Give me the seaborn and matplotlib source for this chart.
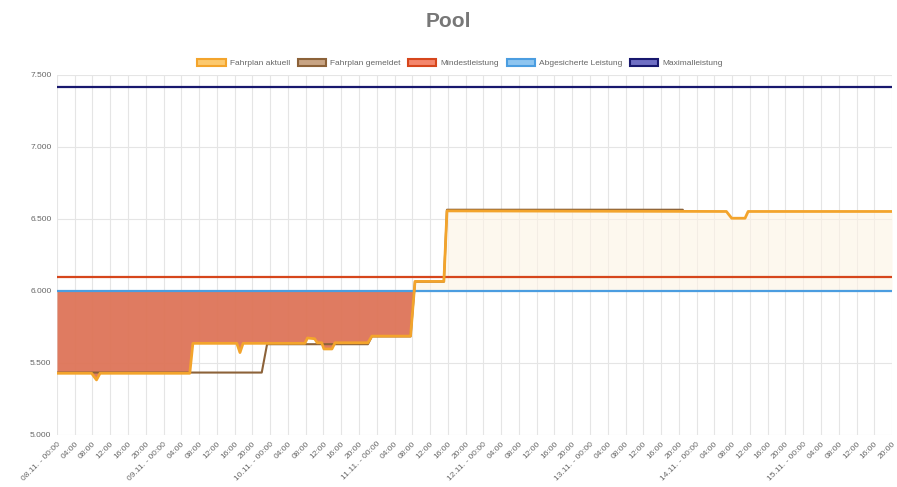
import numpy as np
import matplotlib
matplotlib.use("Agg")
import matplotlib.pyplot as plt
from matplotlib.patches import Patch
import seaborn as sns

# ── Data (hours since 08.11. 00:00) ──
akt_h = [0, 7.8, 8.9, 9.7, 29.9, 30.6, 40.5, 41.2, 41.9, 55.8, 56.4, 58.0, 58.6,
         59.6, 60.1, 61.9, 62.6, 70.0, 70.9, 79.6, 80.6, 87.1, 87.8, 150.7,
         151.9, 154.9, 155.6, 188]
akt_v = [5428, 5428, 5382, 5428, 5428, 5636, 5636, 5572, 5636, 5636, 5673, 5668, 5640,
         5640, 5597, 5597, 5640, 5640, 5686, 5686, 6066, 6066, 6556, 6552,
         6505, 6505, 6552, 6552]

gem_h = [0, 46.1, 47.3, 70.0, 70.9, 79.6, 80.6, 87.1, 87.8, 140.9]
gem_v = [5433, 5433, 5630, 5630, 5684, 5684, 6064, 6064, 6564, 6564]

const_h = [0, 188]
mindest_v = [6100, 6100]
abges_v = [6002, 6002]
max_v = [7418, 7418]

days = ["08.11.", "09.11.", "10.11.", "11.11.", "12.11.", "13.11.", "14.11.", "15.11."]
hour_lbls = ["00:00", "04:00", "08:00", "12:00", "16:00", "20:00"]
tick_labels = [f"{d} - {h}" if h == "00:00" else h for d in days for h in hour_lbls]
y_ticks = [5000, 5500, 6000, 6500, 7000, 7500]

C_AKT = "#f3a42c"
C_GEM = "#8c6239"
C_MIN = "#d6461c"
C_ABG = "#4b9de0"
C_MAX = "#18186e"

sns.set_theme(style="whitegrid")
plt.rcParams["font.family"] = ["Liberation Sans", "DejaVu Sans"]

fig = plt.figure(figsize=(8.97, 4.87), dpi=100)
ax = fig.add_axes([0.0635, 0.107, 0.931, 0.739])

# ── Fills between Fahrplan aktuell and Abgesicherte Leistung ──
xa = np.array(akt_h)
ya = np.array(akt_v)
ax.fill_between(xa, ya, abges_v[0], where=ya <= abges_v[0], interpolate=True,
                color="#de7458", alpha=0.95, lw=0, zorder=1)
ax.fill_between(xa, ya, abges_v[0], where=ya >= abges_v[0], interpolate=True,
                color="#fdf4e4", alpha=0.6, lw=0, zorder=1)

# ── Lines ──
sns.lineplot(x=const_h, y=max_v, ax=ax, color=C_MAX, linewidth=1.6, zorder=3)
sns.lineplot(x=const_h, y=abges_v, ax=ax, color=C_ABG, linewidth=1.6, zorder=3)
sns.lineplot(x=const_h, y=mindest_v, ax=ax, color=C_MIN, linewidth=1.6, zorder=3)
sns.lineplot(x=gem_h, y=gem_v, ax=ax, color=C_GEM, linewidth=1.5, zorder=4,
             sort=False, estimator=None)
sns.lineplot(x=akt_h, y=akt_v, ax=ax, color=C_AKT, linewidth=2.0, zorder=5,
             sort=False, estimator=None)

# ── Axes ──
ax.set_xlim(0, 188)
ax.set_ylim(5000, 7500)
ax.set_xticks(np.arange(0, 189, 4))
ax.set_xticklabels(tick_labels, rotation=45, ha="right", rotation_mode="anchor",
                   fontsize=6, color="#666666")
ax.set_yticks(y_ticks)
ax.set_yticklabels([f"{v:,}".replace(",", ".") for v in y_ticks],
                   fontsize=6, color="#666666")
ax.tick_params(axis="both", length=0, pad=4)
ax.grid(True, color="#e5e5e5", linewidth=0.8)
for s in ax.spines.values():
    s.set_visible(False)
ax.set_xlabel("")
ax.set_ylabel("")

# ── Legend ──
handles = [
    Patch(facecolor="#fcc96e", edgecolor=C_AKT, linewidth=1.5, label="Fahrplan aktuell"),
    Patch(facecolor="#c8a484", edgecolor=C_GEM, linewidth=1.5, label="Fahrplan gemeldet"),
    Patch(facecolor="#f4866c", edgecolor=C_MIN, linewidth=1.5, label="Mindestleistung"),
    Patch(facecolor="#8ec5f0", edgecolor=C_ABG, linewidth=1.5, label="Abgesicherte Leistung"),
    Patch(facecolor="#6f6fc4", edgecolor=C_MAX, linewidth=1.5, label="Maximalleistung"),
]
leg = fig.legend(handles=handles, loc="center", bbox_to_anchor=(0.513, 0.871),
                 ncol=5, frameon=False, fontsize=6, handlelength=3.4,
                 handleheight=1.0, columnspacing=0.9, handletextpad=0.5)
for t in leg.get_texts():
    t.set_color("#666666")

fig.suptitle("Pool", x=0.5, y=0.975, fontsize=15, fontweight="bold", color="#777777")

fig.savefig("out.png", dpi=100)
